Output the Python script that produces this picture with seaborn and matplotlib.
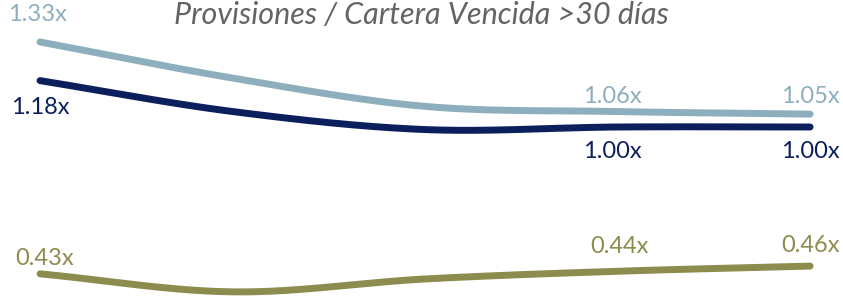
import numpy as np
import pandas as pd
import matplotlib
matplotlib.use("Agg")
import matplotlib.pyplot as plt
import seaborn as sns

# datos (5 periodos, solo se etiquetan el primero y los dos ultimos)
periodos = [0, 1, 2, 3, 4]
provisiones = [1.33, 1.19, 1.08, 1.06, 1.05]
sistema = [1.18, 1.06, 0.99, 1.00, 1.00]
otro = [0.43, 0.36, 0.41, 0.44, 0.46]
etiquetar = [0, 3, 4]

series = {"provisiones": provisiones, "sistema": sistema, "otro": otro}
colores = {"provisiones": "#8DAEBD", "sistema": "#0B1F5C", "otro": "#8C8C4E"}
# desplazamiento de etiquetas en pixeles (dx, dy)
offsets = {
    "provisiones": [(-3, 27), (-5, 15), (0, 18)],
    "sistema": [(0, -27), (-5, -25), (0, -25)],
    "otro": [(5, 15), (2, 25), (0, 21)],
}


def suavizar(x, y, n=60):
    # catmull-rom para dibujar la curva suave
    x = np.asarray(x, float)
    y = np.asarray(y, float)
    px = np.concatenate([[2 * x[0] - x[1]], x, [2 * x[-1] - x[-2]]])
    py = np.concatenate([[2 * y[0] - y[1]], y, [2 * y[-1] - y[-2]]])
    xs, ys = [], []
    t = np.linspace(0, 1, n)
    for i in range(1, len(px) - 2):
        for arr, out in ((px, xs), (py, ys)):
            p0, p1, p2, p3 = arr[i - 1], arr[i], arr[i + 1], arr[i + 2]
            out.append(0.5 * ((2 * p1) + (-p0 + p2) * t
                              + (2 * p0 - 5 * p1 + 4 * p2 - p3) * t ** 2
                              + (-p0 + 3 * p1 - 3 * p2 + p3) * t ** 3))
    return np.concatenate(xs), np.concatenate(ys)


frames = []
for nombre, vals in series.items():
    xs, ys = suavizar(periodos, vals)
    frames.append(pd.DataFrame({"x": xs, "y": ys, "serie": nombre}))
df = pd.concat(frames, ignore_index=True)

sns.set_style("white")
plt.rcParams["font.family"] = ["Lato", "DejaVu Sans"]

fig = plt.figure(figsize=(8.43, 3.01), dpi=100)
ax = fig.add_axes([0, 0, 1, 1])

sns.lineplot(data=df, x="x", y="y", hue="serie", palette=colores, sort=False,
             estimator=None, linewidth=5, solid_capstyle="round", legend=False, ax=ax)

for nombre, vals in series.items():
    for k, i in enumerate(etiquetar):
        ax.annotate(f"{vals[i]:.2f}x", (periodos[i], vals[i]),
                    xytext=offsets[nombre][k], textcoords="offset pixels",
                    ha="center", va="center", fontsize=17,
                    color=colores[nombre])

ax.set_xlim(-0.208, 4.171)
ax.set_ylim(0.3245, 1.493)
ax.axis("off")

fig.text(0.5, 1 - 15 / 301, "Provisiones / Cartera Vencida >30 días", ha="center",
         va="center", fontsize=22, fontstyle="italic", color="#636363")

fig.savefig("out.png", dpi=100)
